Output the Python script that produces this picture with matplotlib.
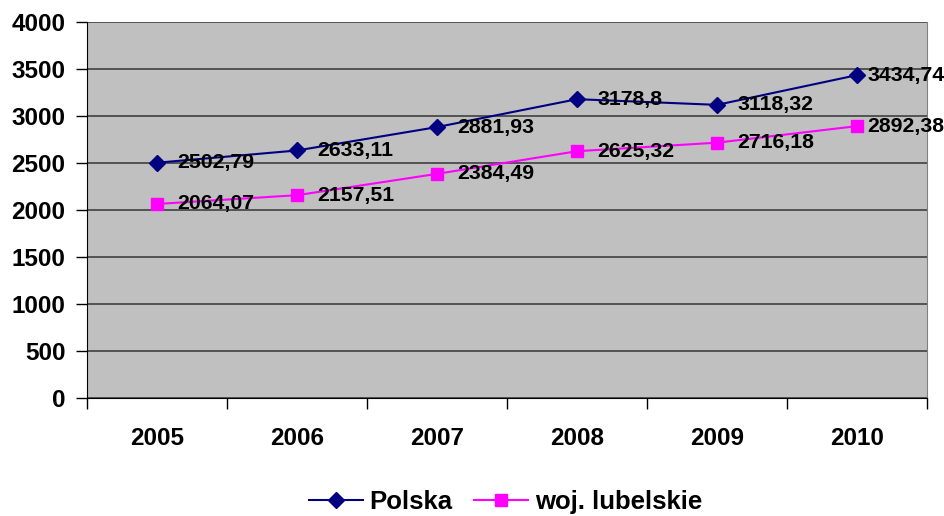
import matplotlib
matplotlib.use("Agg")
from matplotlib import pyplot as plt

plt.rcParams['font.family'] = ['Liberation Sans', 'DejaVu Sans']
plt.rcParams['font.weight'] = 'bold'

years = ['2005', '2006', '2007', '2008', '2009', '2010']
polska = [2502.79, 2633.11, 2881.93, 3178.8, 3118.32, 3434.74]
lubelskie = [2064.07, 2157.51, 2384.49, 2625.32, 2716.18, 2892.38]
yticks = [0, 500, 1000, 1500, 2000, 2500, 3000, 3500, 4000]

fig = plt.figure(figsize=(9.45, 5.16), dpi=100)
ax = fig.add_axes([0.0921, 0.2287, 0.8889, 0.7287])
ax.set_facecolor('#C0C0C0')

x = list(range(len(years)))
ax.plot(x, polska, color='#000080', lw=1.5, marker='D', ms=8, label='Polska', zorder=3)
ax.plot(x, lubelskie, color='#FF00FF', lw=1.5, marker='s', ms=8.5, label='woj. lubelskie', zorder=3)

def fmt(v):
    s = ('%.2f' % v).rstrip('0').rstrip('.')
    return s.replace('.', ',')

for i in x:
    dx = 20 if i < len(x) - 1 else 10
    ax.annotate(fmt(polska[i]), (i, polska[i]), xytext=(dx, 0), textcoords='offset pixels',
                ha='left', va='center', fontsize=15.3, fontweight='bold', zorder=4)
    ax.annotate(fmt(lubelskie[i]), (i, lubelskie[i]), xytext=(dx, 0), textcoords='offset pixels',
                ha='left', va='center', fontsize=15.3, fontweight='bold', zorder=4)

ax.set_xlim(-0.5, 5.5)
ax.set_ylim(0, 4000)
ax.set_yticks(yticks)
ax.set_yticklabels([str(t) for t in yticks], fontsize=17.5, fontweight='bold')
ax.yaxis.grid(True, color='#404040', lw=1.2)
ax.set_axisbelow(True)

ax.set_xticks(x)
ax.set_xticklabels(years, fontsize=17.5, fontweight='bold')
ax.tick_params(axis='x', which='major', length=0, pad=21)
ax.set_xticks([i - 0.5 for i in range(len(years) + 1)], minor=True)
ax.tick_params(axis='x', which='minor', length=8, width=1, color='black', direction='out')
ax.tick_params(axis='y', length=8, width=1, color='black', direction='out', pad=7.5)

ax.spines['top'].set_visible(False)
ax.spines['right'].set_color('#808080')
ax.spines['left'].set_color('black')
ax.spines['bottom'].set_color('black')

leg = fig.legend(loc='center', bbox_to_anchor=(0.535, 0.027), ncol=2, frameon=False,
                 prop={'size': 18.5, 'weight': 'bold'}, handlelength=2.1, columnspacing=0.85,
                 handletextpad=0.25)

fig.savefig('out.png', dpi=100)
